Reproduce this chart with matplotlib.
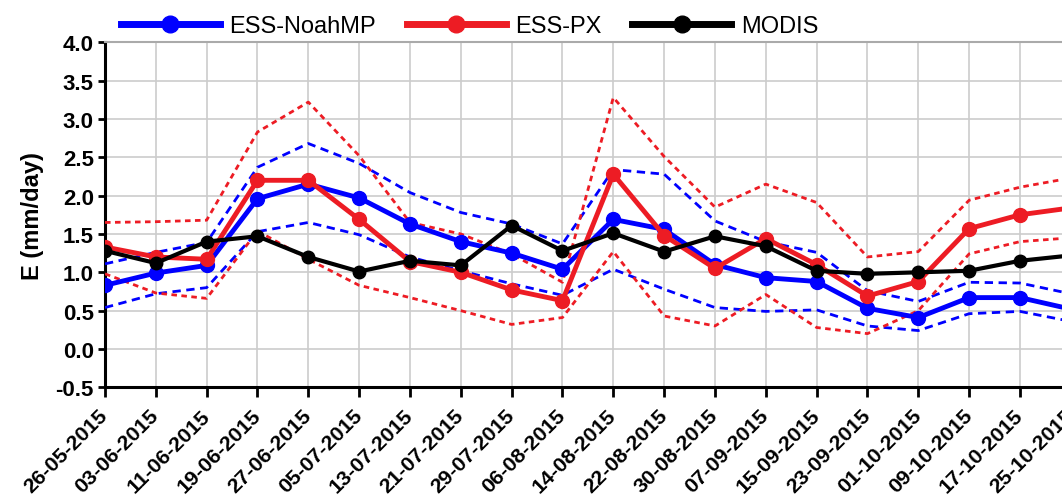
import numpy as np
import matplotlib
matplotlib.use("Agg")
import matplotlib.pyplot as plt

plt.rcParams['font.family'] = ['Liberation Sans', 'DejaVu Sans']

# --- data ---
dates = ['26-05-2015', '03-06-2015', '11-06-2015', '19-06-2015', '27-06-2015',
         '05-07-2015', '13-07-2015', '21-07-2015', '29-07-2015', '06-08-2015',
         '14-08-2015', '22-08-2015', '30-08-2015', '07-09-2015', '15-09-2015',
         '23-09-2015', '01-10-2015', '09-10-2015', '17-10-2015', '25-10-2015']

noahmp = [0.83, 0.99, 1.09, 1.96, 2.15, 1.97, 1.63, 1.40, 1.25, 1.04,
          1.69, 1.56, 1.10, 0.93, 0.88, 0.53, 0.41, 0.67, 0.67, 0.52]
noahmp_hi = [1.11, 1.26, 1.39, 2.37, 2.68, 2.42, 2.04, 1.78, 1.63, 1.37,
             2.34, 2.28, 1.67, 1.40, 1.26, 0.76, 0.62, 0.87, 0.86, 0.72]
noahmp_lo = [0.54, 0.72, 0.80, 1.53, 1.65, 1.49, 1.20, 1.02, 0.85, 0.70,
             1.04, 0.78, 0.54, 0.49, 0.51, 0.30, 0.24, 0.46, 0.49, 0.36]

px = [1.33, 1.20, 1.17, 2.20, 2.20, 1.69, 1.14, 1.00, 0.77, 0.63,
      2.28, 1.48, 1.05, 1.44, 1.10, 0.69, 0.88, 1.57, 1.75, 1.84]
px_hi = [1.65, 1.66, 1.68, 2.83, 3.22, 2.52, 1.65, 1.50, 1.24, 0.87,
         3.28, 2.51, 1.85, 2.15, 1.91, 1.20, 1.27, 1.94, 2.11, 2.23]
px_lo = [0.98, 0.73, 0.66, 1.54, 1.17, 0.83, 0.67, 0.50, 0.32, 0.41,
         1.27, 0.43, 0.30, 0.71, 0.28, 0.20, 0.50, 1.24, 1.40, 1.45]

modis = [1.28, 1.12, 1.40, 1.47, 1.20, 1.01, 1.15, 1.09, 1.61, 1.28,
         1.51, 1.27, 1.47, 1.34, 1.02, 0.98, 1.00, 1.02, 1.15, 1.22]

BLUE = '#0000ff'
RED = '#ed1c24'

x = np.arange(len(dates))

fig = plt.figure(figsize=(10.62, 5.02), dpi=100)
# axes runs a bit past the right edge, like the cropped original
ax = fig.add_axes([105 / 1062, 1 - 388.3 / 502, (1070.8 - 105) / 1062, 345 / 502])

# spread lines (dashed)
ax.plot(x, noahmp_hi, color=BLUE, lw=2.0, ls=(0, (3, 2)), zorder=3)
ax.plot(x, noahmp_lo, color=BLUE, lw=2.0, ls=(0, (3, 2)), zorder=3)
ax.plot(x, px_hi, color=RED, lw=2.0, ls=(0, (2, 1.6)), zorder=3)
ax.plot(x, px_lo, color=RED, lw=2.0, ls=(0, (2, 1.6)), zorder=3)

# main series
ax.plot(x, noahmp, color=BLUE, lw=3.5, marker='o', ms=10, label='ESS-NoahMP', zorder=4)
ax.plot(x, px, color=RED, lw=3.5, marker='o', ms=10, label='ESS-PX', zorder=5)
ax.plot(x, modis, color='black', lw=3, marker='o', ms=9, label='MODIS', zorder=6)

ax.set_xlim(0, len(dates) - 1)
ax.set_ylim(-0.5, 4.0)
ax.set_yticks(np.arange(-0.5, 4.01, 0.5))
ax.set_yticklabels([f'{v:.1f}' for v in np.arange(-0.5, 4.01, 0.5)])
ax.set_xticks(x)
ax.set_xticklabels(dates, rotation=45, ha='right', va='center',
                   rotation_mode='anchor')

ax.grid(True, color='#cccccc', lw=1.2, zorder=0)
ax.set_axisbelow(True)

for lab in ax.get_yticklabels():
    lab.set_fontweight('bold')
    lab.set_fontsize(16)
for lab in ax.get_xticklabels():
    lab.set_fontweight('bold')
    lab.set_fontsize(15.3)
ax.tick_params(axis='y', length=5, width=2, pad=3)
ax.tick_params(axis='x', length=7, width=2, pad=11)

ax.spines['left'].set_linewidth(2.2)
ax.spines['bottom'].set_linewidth(2.2)
ax.spines['top'].set_color('#aaaaaa')
ax.spines['top'].set_linewidth(1.5)
ax.spines['right'].set_visible(False)

ax.set_ylabel('E (mm/day)', fontsize=17, fontweight='bold', labelpad=8)

leg = fig.legend(loc='center', bbox_to_anchor=(0.442, 0.946), ncol=3,
                 frameon=False, fontsize=17, handlelength=4.2,
                 handletextpad=0.4, columnspacing=1.3)
for h in leg.legend_handles:
    h.set_linewidth(5)
    h.set_markersize(12)

fig.savefig('out.png', dpi=100)
